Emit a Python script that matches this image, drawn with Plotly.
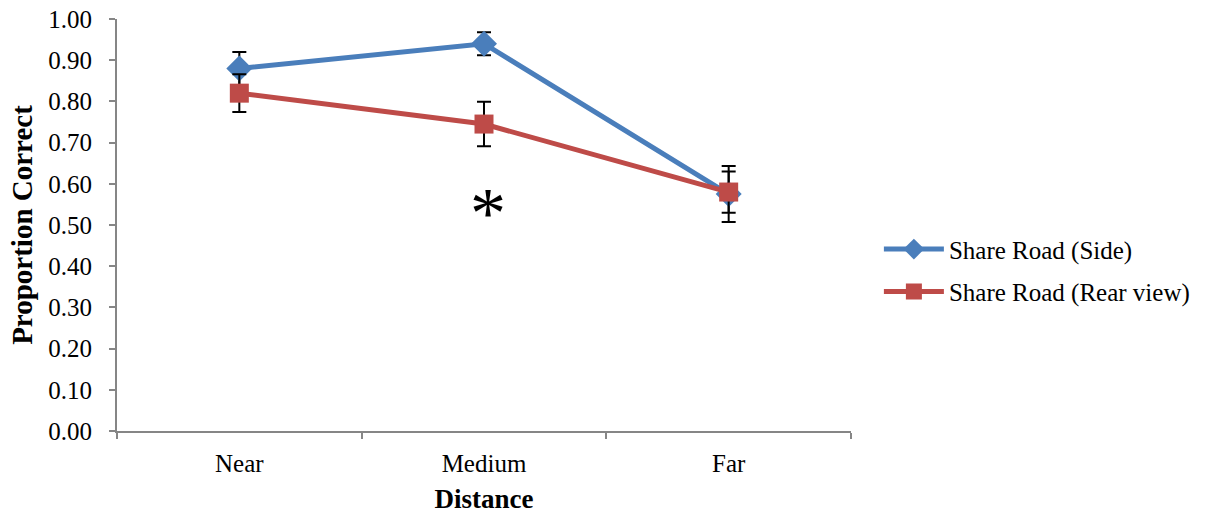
import plotly.graph_objects as go

categories = ["Near", "Medium", "Far"]
side_vals = [0.88, 0.94, 0.575]
side_err = [0.04, 0.028, 0.068]
rear_vals = [0.82, 0.745, 0.58]
rear_err = [0.046, 0.054, 0.05]
y_ticks = [i / 10 for i in range(11)]
y_tick_labels = [f"{v:.2f}" for v in y_ticks]

FONT = "Liberation Serif, Times New Roman, serif"
AXIS_COLOR = "#868686"

fig = go.Figure()
fig.add_trace(go.Scatter(
    x=categories, y=side_vals, name="Share Road (Side)", mode="lines+markers",
    legendgroup="side",
    line=dict(color="#4A7EBB", width=5),
    marker=dict(symbol="diamond", size=20, color="#4A7EBB"),
    error_y=dict(type="data", array=side_err, color="black", thickness=2, width=7),
))
fig.add_trace(go.Scatter(
    x=categories, y=rear_vals, name="Share Road (Rear view)", mode="lines+markers",
    legendgroup="rear",
    line=dict(color="#BE4B48", width=5),
    marker=dict(symbol="square", size=19, color="#BE4B48"),
    error_y=dict(type="data", array=rear_err, color="black", thickness=2, width=7),
))

fig.add_annotation(x="Medium", y=0.545, text="*", showarrow=False,
                   font=dict(family=FONT, size=72, color="black"), yshift=-7, xshift=4)

fig.update_layout(
    width=1213, height=517,
    margin=dict(l=117, r=362, t=19, b=86, autoexpand=False),
    paper_bgcolor="white", plot_bgcolor="white",
    font=dict(family=FONT, color="black", size=25),
    showlegend=True,
    legend=dict(x=1.038, y=0.39, yanchor="middle", xanchor="left",
                font=dict(family=FONT, size=25), tracegroupgap=7,
                itemwidth=60),
)
fig.update_xaxes(
    type="category", range=[-0.5, 2.5], tickson="boundaries", automargin=False,
    showline=True, linecolor=AXIS_COLOR, linewidth=2,
    ticks="outside", ticklen=6, tickcolor=AXIS_COLOR, tickwidth=1.5,
    showgrid=False, zeroline=False, ticklabelstandoff=9,
    ticklabeloverflow="allow",
    tickfont=dict(family=FONT, size=25),
    title=dict(text="<b>Distance</b>", font=dict(family=FONT, size=27), standoff=13),
)
fig.update_yaxes(
    range=[0, 1.0], tickvals=y_ticks, ticktext=y_tick_labels, automargin=False,
    showline=True, linecolor=AXIS_COLOR, linewidth=2,
    ticks="outside", ticklen=6, tickcolor=AXIS_COLOR, tickwidth=1.5,
    showgrid=False, zeroline=False, ticklabelstandoff=12,
    ticklabeloverflow="allow",
    tickfont=dict(family=FONT, size=25),
    title=dict(text="<b>Proportion Correct</b>", font=dict(family=FONT, size=29), standoff=7),
)

fig.write_html("out.html",
               config={"displayModeBar": False},
               post_script="document.body.style.margin='0';document.body.style.overflow='hidden';")
